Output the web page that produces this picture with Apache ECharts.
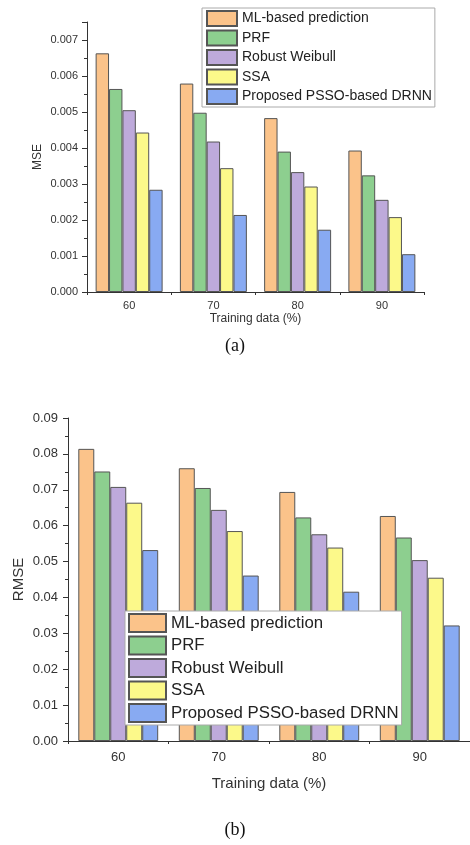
<!DOCTYPE html>
<html>
<head>
<meta charset="utf-8">
<script src="https://cdn.jsdelivr.net/npm/echarts@6/dist/echarts.min.js"></script>
<style>
  html, body { margin: 0; padding: 0; background: #fff; }
  #chart { width: 470px; height: 845px; }
</style>
</head>
<body>
<div id="chart"></div>
<script>
// categories and series names
const categories = ['60', '70', '80', '90'];
const seriesNames = ['ML-based prediction', 'PRF', 'Robust Weibull', 'SSA', 'Proposed PSSO-based DRNN'];

// (a) MSE values
const mseML = [0.00663, 0.00579, 0.00483, 0.00393];
const msePRF = [0.00564, 0.00498, 0.00390, 0.00324];
const mseWeibull = [0.00505, 0.00418, 0.00333, 0.00256];
const mseSSA = [0.00443, 0.00344, 0.00293, 0.00208];
const msePSSO = [0.00284, 0.00214, 0.00173, 0.00105];

// (b) RMSE values
const rmseML = [0.0814, 0.0760, 0.0694, 0.0627];
const rmsePRF = [0.0751, 0.0705, 0.0623, 0.0567];
const rmseWeibull = [0.0708, 0.0644, 0.0576, 0.0504];
const rmseSSA = [0.0664, 0.0585, 0.0539, 0.0455];
const rmsePSSO = [0.0532, 0.0461, 0.0416, 0.0322];

const colors = ['#FBC38A', '#8DCF8F', '#BEAADB', '#FCF98A', '#88AAF2'];
const font = 'Liberation Sans, Arial, sans-serif';

var myChart = echarts.init(document.getElementById('chart'));

function bars(list, axisIdx) {
    return list.map(function (d, i) {
        return {
            name: seriesNames[i],
            type: 'bar',
            xAxisIndex: axisIdx,
            yAxisIndex: axisIdx / 2,
            data: d,
            barGap: 0,
            barCategoryGap: '20.5%',
            itemStyle: { color: colors[i], borderColor: '#555', borderWidth: 1 }
        };
    });
}

function catAxis(gridIndex, fontSize, margin, nameGap, nameSize) {
    return {
        type: 'category',
        gridIndex: gridIndex,
        data: categories,
        position: 'bottom',
        name: 'Training data (%)',
        nameLocation: 'middle',
        nameGap: nameGap,
        nameMoveOverlap: false,
        nameTextStyle: { fontSize: nameSize, fontFamily: font, color: '#333' },
        axisLine: { lineStyle: { color: '#333', width: 1 } },
        axisTick: { alignWithLabel: true, length: 4, lineStyle: { color: '#333' } },
        axisLabel: { fontSize: fontSize, fontFamily: font, color: '#333', margin: margin }
    };
}

// extra axis only for the small ticks between groups
function boundaryTicks(gridIndex) {
    return {
        type: 'value',
        gridIndex: gridIndex,
        position: 'bottom',
        min: 0, max: 4, interval: 1,
        axisLine: { show: false },
        axisLabel: { show: false },
        splitLine: { show: false },
        axisTick: { show: true, length: 3, lineStyle: { color: '#333' } }
    };
}

let option = {
    backgroundColor: '#fff',
    animation: false,
    grid: [
        { left: 87, right: 46, top: 22, bottom: 553 },
        { left: 68, right: -1, top: 418, bottom: 104 }
    ],
    xAxis: [
        catAxis(0, 11, 8, 21, 12),
        boundaryTicks(0),
        catAxis(1, 13, 10, 35, 15),
        boundaryTicks(1)
    ],
    yAxis: [
        {
            type: 'value',
            gridIndex: 0,
            min: 0, max: 0.0075, interval: 0.001,
            name: 'MSE',
            nameLocation: 'middle',
            nameGap: 43,
            nameMoveOverlap: false,
            nameTextStyle: { fontSize: 12, fontFamily: font, color: '#333' },
            axisLine: { show: true, lineStyle: { color: '#333' } },
            axisTick: { show: true, length: 5, lineStyle: { color: '#333' } },
            minorTick: { show: true, splitNumber: 2, length: 3, lineStyle: { color: '#333' } },
            splitLine: { show: false },
            axisLabel: {
                fontSize: 11, fontFamily: font, color: '#333', margin: 9,
                formatter: function (v) {
                    return Math.abs(v * 1000 - Math.round(v * 1000)) < 1e-6 ? v.toFixed(3) : '';
                }
            }
        },
        {
            type: 'value',
            gridIndex: 1,
            min: 0, max: 0.09, interval: 0.01,
            name: 'RMSE',
            nameLocation: 'middle',
            nameGap: 42,
            nameMoveOverlap: false,
            nameTextStyle: { fontSize: 15, fontFamily: font, color: '#333' },
            axisLine: { show: true, lineStyle: { color: '#333' } },
            axisTick: { show: true, length: 5, lineStyle: { color: '#333' } },
            minorTick: { show: true, splitNumber: 2, length: 3, lineStyle: { color: '#333' } },
            splitLine: { show: false },
            axisLabel: {
                fontSize: 13, fontFamily: font, color: '#333', margin: 10,
                formatter: function (v) { return v.toFixed(2); }
            }
        }
    ],
    legend: [
        {
            data: seriesNames,
            orient: 'vertical',
            left: 202, top: 8,
            itemWidth: 30, itemHeight: 15, itemGap: 2.5,
            padding: [2, 3, 2, 4],
            borderColor: '#aaa', borderWidth: 1,
            backgroundColor: '#fff',
            icon: 'rect',
            textStyle: { fontSize: 14, fontFamily: font, color: '#222' }
        },
        {
            data: seriesNames,
            orient: 'vertical',
            left: 125, top: 611,
            itemWidth: 37, itemHeight: 18, itemGap: 2.5,
            padding: [2, 3, 2, 3],
            borderColor: '#aaa', borderWidth: 1,
            backgroundColor: '#fff',
            icon: 'rect',
            textStyle: { fontSize: 16.8, fontFamily: font, color: '#222' }
        }
    ],
    graphic: [
        { type: 'text', left: 'center', top: 337, style: { text: '(a)', font: '18px "Liberation Serif", "Times New Roman", serif', fill: '#111' } },
        { type: 'text', left: 'center', top: 821, style: { text: '(b)', font: '18px "Liberation Serif", "Times New Roman", serif', fill: '#111' } }
    ],
    series: bars([mseML, msePRF, mseWeibull, mseSSA, msePSSO], 0)
        .concat(bars([rmseML, rmsePRF, rmseWeibull, rmseSSA, rmsePSSO], 2))
};

myChart.setOption(option);
</script>
</body>
</html>
